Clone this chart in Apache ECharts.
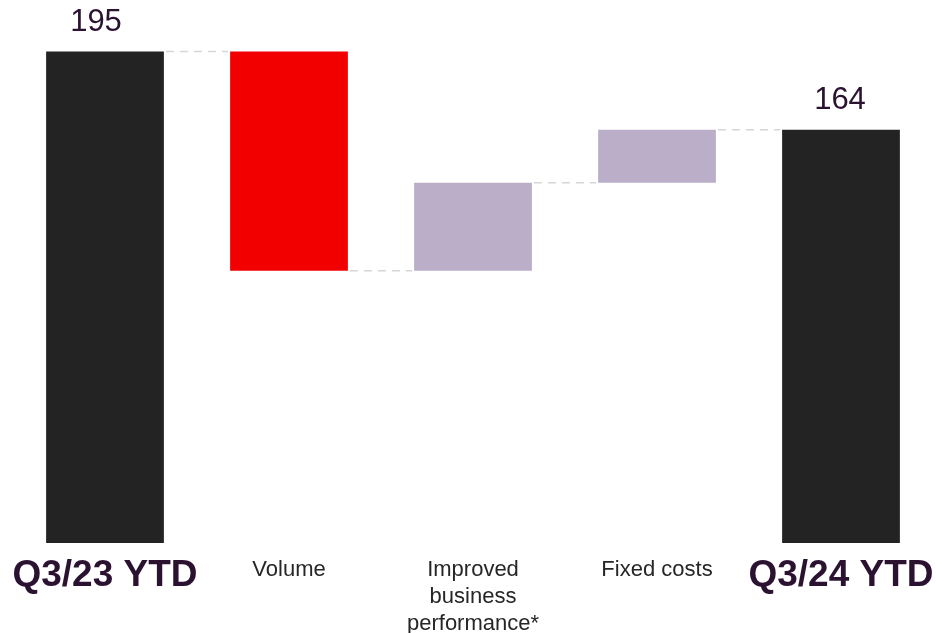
<!DOCTYPE html>
<html>
<head>
<meta charset="utf-8">
<style>
  html, body { margin: 0; padding: 0; background: #ffffff; }
  #chart { width: 936px; height: 633px; }
</style>
<script src="https://cdn.jsdelivr.net/npm/echarts@6/dist/echarts.min.js"></script>
</head>
<body>
<div id="chart"></div>
<script>
// Bridge steps: start total, changes, end total
const categories = ['Q3/23 YTD', 'Volume', 'Improved\nbusiness\nperformance*', 'Fixed costs', 'Q3/24 YTD'];
const stepValues = [195, -87, 35, 21, 164];
const stepKinds = ['total', 'delta', 'delta', 'delta', 'total'];

const COLOR_TOTAL = '#232323';
const COLOR_DOWN = '#f20000';
const COLOR_UP = '#bbaec8';

// Running levels: invisible base + visible block for each step
const baseData = [];
const blockData = [];
const levelAfter = [];
let running = 0;
stepValues.forEach((v, i) => {
  if (stepKinds[i] === 'total') {
    running = v;
    baseData.push(0);
    blockData.push({
      value: v,
      itemStyle: { color: COLOR_TOTAL },
      label: { offset: [i === 0 ? -9 : -1, 0] }
    });
  } else {
    const start = running;
    running = start + v;
    baseData.push(Math.min(start, running));
    blockData.push({ value: Math.abs(v), itemStyle: { color: v < 0 ? COLOR_DOWN : COLOR_UP } });
  }
  levelAfter.push(running);
});

// Connector segments between neighbouring bars: [fromIndex, level]
const connectorData = [];
for (let i = 0; i < categories.length - 1; i++) {
  connectorData.push([i, levelAfter[i]]);
}

const chart = echarts.init(document.getElementById('chart'), null, { renderer: 'canvas' });

const BAR_RATIO = 0.64;

chart.setOption({
  animation: false,
  backgroundColor: '#ffffff',
  grid: { left: 13, right: 3, top: 39, bottom: 90, containLabel: false, outerBoundsMode: 'none' },
  xAxis: {
    type: 'category',
    data: categories,
    axisLine: { show: false },
    axisTick: { show: false },
    axisLabel: {
      interval: 0,
      margin: 13,
      verticalAlign: 'top',
      formatter: (val, idx) => stepKinds[idx] === 'total' ? '{big|' + val + '}' : '{small|' + val + '}',
      rich: {
        big: {
          fontFamily: 'Liberation Sans, Arial, sans-serif',
          fontWeight: 'bold',
          fontSize: 37,
          lineHeight: 40,
          color: '#2a1230'
        },
        small: {
          fontFamily: 'Liberation Sans, Arial, sans-serif',
          fontSize: 22,
          lineHeight: 27,
          color: '#262626'
        }
      }
    }
  },
  yAxis: {
    type: 'value',
    min: 0,
    max: 200,
    show: false,
    splitLine: { show: false }
  },
  series: [
    {
      name: 'base',
      type: 'bar',
      stack: 'bridge',
      barWidth: (BAR_RATIO * 100) + '%',
      itemStyle: { color: 'transparent' },
      emphasis: { disabled: true },
      data: baseData
    },
    {
      name: 'step',
      type: 'bar',
      stack: 'bridge',
      barWidth: (BAR_RATIO * 100) + '%',
      data: blockData,
      label: {
        show: true,
        position: 'top',
        distance: 14,
        fontFamily: 'Liberation Sans, Arial, sans-serif',
        fontSize: 31,
        color: '#2a1230',
        formatter: (p) => stepKinds[p.dataIndex] === 'total' ? String(stepValues[p.dataIndex]) : ''
      }
    },
    {
      name: 'connector',
      type: 'custom',
      silent: true,
      z: 1,
      data: connectorData,
      renderItem: (params, api) => {
        const i = api.value(0);
        const level = api.value(1);
        const p0 = api.coord([i, level]);
        const p1 = api.coord([i + 1, level]);
        const band = api.size([1, 0])[0];
        const half = band * BAR_RATIO / 2;
        return {
          type: 'line',
          shape: { x1: p0[0] + half + 2, y1: p0[1], x2: p1[0] - half - 2, y2: p1[1] },
          style: { stroke: '#d6d6d6', lineWidth: 1.5, lineDash: [8, 6] }
        };
      }
    }
  ]
});
</script>
</body>
</html>
